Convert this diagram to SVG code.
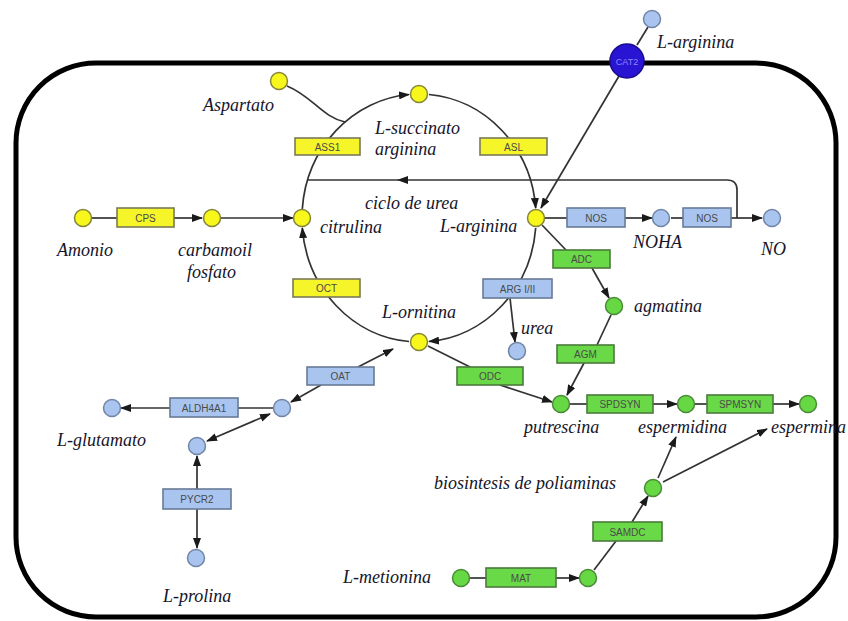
<svg xmlns="http://www.w3.org/2000/svg" width="848" height="621" viewBox="0 0 848 621">
<defs>
<style>
.lbl{font-family:"Liberation Serif",serif;font-style:italic;font-size:18px;fill:#15152a}
.et{font-family:"Liberation Sans",sans-serif;font-size:10px;fill:#4a4a4a;text-anchor:middle}
.c{stroke:#333;stroke-width:1.7;fill:none}
.ny{fill:#f7f71c;stroke:#85853a;stroke-width:1.5}
.nb{fill:#a9c5ef;stroke:#7185a6;stroke-width:1.5}
.ng{fill:#66d844;stroke:#4b8a36;stroke-width:1.5}
.by{fill:#f5f52a;stroke:#7a7a55;stroke-width:1.6}
.bb{fill:#a9c5ef;stroke:#687a96;stroke-width:1.6}
.bg{fill:#6ad947;stroke:#4a7a3a;stroke-width:1.6}
</style>
<marker id="a" markerWidth="11" markerHeight="8" refX="10" refY="4" orient="auto-start-reverse" markerUnits="userSpaceOnUse">
<path d="M0,0 L11,4 L0,8 z" fill="#1a1a1a"/>
</marker>
</defs>
<rect width="848" height="621" fill="#ffffff"/>
<rect id="cell" x="16" y="63" width="820" height="554" rx="80" ry="80" fill="none" stroke="#000" stroke-width="5"/>

<g id="connectors">
<path class="c" d="M302.3,209 A117 124 0 0 1 409,94.5" marker-end="url(#a)"/>
<path class="c" d="M429,94.5 A117 124 0 0 1 535.7,208" marker-end="url(#a)"/>
<path class="c" d="M535.7,228 A117 124 0 0 1 429,341.5" marker-end="url(#a)"/>
<path class="c" d="M409,341.5 A117 124 0 0 1 302.3,228" marker-end="url(#a)"/>
<path class="c" d="M287,86 C312,96 322,117 345,122"/>
<path class="c" d="M737,218 V190 Q737,180 727,180 H398" marker-end="url(#a)"/>
<path class="c" d="M400,180 H307"/>
<path class="c" d="M92,218 H117"/>
<path class="c" d="M174,218 H202" marker-end="url(#a)"/>
<path class="c" d="M221,218 H293" marker-end="url(#a)"/>
<path class="c" d="M648,27 L637,45"/>
<path class="c" d="M619,76 L541,208" marker-end="url(#a)"/>
<path class="c" d="M545,218 H567"/>
<path class="c" d="M625,218 H652" marker-end="url(#a)"/>
<path class="c" d="M671,218 H683"/>
<path class="c" d="M731,218 H762" marker-end="url(#a)"/>
<path class="c" d="M542,225 L566,250"/>
<path class="c" d="M592,268 L609,298" marker-end="url(#a)"/>
<path class="c" d="M611,315 L597,345"/>
<path class="c" d="M584,363 L567,395" marker-end="url(#a)"/>
<path class="c" d="M428,346 L470,367"/>
<path class="c" d="M500,385 L552,402" marker-end="url(#a)"/>
<path class="c" d="M510,298 L515,342" marker-end="url(#a)"/>
<path class="c" d="M570,404 H587"/>
<path class="c" d="M653,404 H677" marker-end="url(#a)"/>
<path class="c" d="M695,404 H707"/>
<path class="c" d="M773,404 H799" marker-end="url(#a)"/>
<path class="c" d="M658,478 L676,437" marker-end="url(#a)"/>
<path class="c" d="M663,482 L767,429" marker-end="url(#a)"/>
<path class="c" d="M594,570 L616,541"/>
<path class="c" d="M632,522 L648,496" marker-end="url(#a)"/>
<path class="c" d="M470,578 H486"/>
<path class="c" d="M556,578 H579" marker-end="url(#a)"/>
<path class="c" d="M358,367 L393,349" marker-end="url(#a)"/>
<path class="c" d="M321,385 L291,402" marker-end="url(#a)"/>
<path class="c" d="M273,408 H238"/>
<path class="c" d="M170,408 H121" marker-end="url(#a)"/>
<path class="c" d="M270,414 L207,441" marker-start="url(#a)" marker-end="url(#a)"/>
<path class="c" d="M197,489 L197,456" marker-end="url(#a)"/>
<path class="c" d="M197,509 L197,548" marker-end="url(#a)"/>
</g>

<g id="enzymes">
<g id="ASS1"><rect class="by" x="295" y="138" width="65" height="17"/><text class="et" x="327.5" y="150.5">ASS1</text></g>
<g id="ASL"><rect class="by" x="480" y="138" width="67" height="17"/><text class="et" x="513.5" y="150.5">ASL</text></g>
<g id="CPS"><rect class="by" x="117" y="208" width="57" height="19"/><text class="et" x="145.5" y="221.5">CPS</text></g>
<g id="OCT"><rect class="by" x="293" y="279" width="67" height="18"/><text class="et" x="326.5" y="292">OCT</text></g>
<g id="NOS1"><rect class="bb" x="567" y="208" width="58" height="19"/><text class="et" x="596" y="221.5">NOS</text></g>
<g id="NOS2"><rect class="bb" x="683" y="208" width="48" height="19"/><text class="et" x="707" y="221.5">NOS</text></g>
<g id="ADC"><rect class="bg" x="553" y="250" width="57" height="18"/><text class="et" x="581.5" y="263">ADC</text></g>
<g id="ARG"><rect class="bb" x="483" y="279" width="69" height="19"/><text class="et" x="517.5" y="292.5">ARG I/II</text></g>
<g id="AGM"><rect class="bg" x="557" y="345" width="57" height="18"/><text class="et" x="585.5" y="358">AGM</text></g>
<g id="ODC"><rect class="bg" x="457" y="367" width="66" height="18"/><text class="et" x="490" y="380">ODC</text></g>
<g id="OAT"><rect class="bb" x="307" y="367" width="67" height="18"/><text class="et" x="340.5" y="380">OAT</text></g>
<g id="ALDH4A1"><rect class="bb" x="170" y="398" width="68" height="19"/><text class="et" x="204" y="411.5">ALDH4A1</text></g>
<g id="SPDSYN"><rect class="bg" x="587" y="395" width="66" height="18"/><text class="et" x="620" y="408">SPDSYN</text></g>
<g id="SPMSYN"><rect class="bg" x="707" y="395" width="66" height="18"/><text class="et" x="740" y="408">SPMSYN</text></g>
<g id="PYCR2"><rect class="bb" x="163" y="489" width="68" height="20"/><text class="et" x="197" y="503">PYCR2</text></g>
<g id="SAMDC"><rect class="bg" x="593" y="522" width="69" height="19"/><text class="et" x="627.5" y="535.5">SAMDC</text></g>
<g id="MAT"><rect class="bg" x="486" y="568" width="70" height="19"/><text class="et" x="521" y="581.5">MAT</text></g>
</g>

<g id="CAT2"><circle cx="627" cy="61" r="17" fill="#2a14d4" stroke="#1a0c8a" stroke-width="1.5"/><text x="627" y="64.5" font-family="Liberation Sans,sans-serif" font-size="9" fill="#8f86ff" text-anchor="middle">CAT2</text></g>

<g id="nodes">
<circle id="n-arg-ext" class="nb" cx="652" cy="19" r="8.5"/>
<circle id="n-aspartato" class="ny" cx="279" cy="81" r="8.5"/>
<circle id="n-succinato" class="ny" cx="419" cy="94" r="8.5"/>
<circle id="n-amonio" class="ny" cx="83" cy="218" r="8.5"/>
<circle id="n-carbamoil" class="ny" cx="212" cy="218" r="8.5"/>
<circle id="n-citrulina" class="ny" cx="302" cy="218" r="8.5"/>
<circle id="n-arginina" class="ny" cx="536" cy="218" r="8.5"/>
<circle id="n-ornitina" class="ny" cx="419" cy="342" r="8.5"/>
<circle id="n-noha" class="nb" cx="661" cy="218" r="8.5"/>
<circle id="n-no" class="nb" cx="772" cy="218" r="8.5"/>
<circle id="n-urea" class="nb" cx="517" cy="351" r="8.5"/>
<circle id="n-glutamato" class="nb" cx="112" cy="408" r="8.5"/>
<circle id="n-p5c" class="nb" cx="282" cy="408" r="8.5"/>
<circle id="n-glusa" class="nb" cx="197" cy="446" r="8.5"/>
<circle id="n-prolina" class="nb" cx="196" cy="558" r="8.5"/>
<circle id="n-agmatina" class="ng" cx="614" cy="306" r="8.5"/>
<circle id="n-putrescina" class="ng" cx="561" cy="404" r="8.5"/>
<circle id="n-espermidina" class="ng" cx="686" cy="404" r="8.5"/>
<circle id="n-espermina" class="ng" cx="808" cy="404" r="8.5"/>
<circle id="n-dcsam" class="ng" cx="653" cy="488" r="8.5"/>
<circle id="n-metionina" class="ng" cx="461" cy="578" r="8.5"/>
<circle id="n-sam" class="ng" cx="588" cy="578" r="8.5"/>
</g>

<g id="labels">
<text class="lbl" x="657" y="48">L-arginina</text>
<text class="lbl" x="203" y="111">Aspartato</text>
<text class="lbl" x="375" y="134">L-succinato</text>
<text class="lbl" x="375" y="155">arginina</text>
<text class="lbl" x="365" y="209">ciclo de urea</text>
<text class="lbl" x="320" y="233">citrulina</text>
<text class="lbl" x="440" y="232">L-arginina</text>
<text class="lbl" x="57" y="256">Amonio</text>
<text class="lbl" x="178" y="256">carbamoil</text>
<text class="lbl" x="187" y="278">fosfato</text>
<text class="lbl" x="633" y="248">NOHA</text>
<text class="lbl" x="761" y="255">NO</text>
<text class="lbl" x="634" y="312">agmatina</text>
<text class="lbl" x="382" y="318">L-ornitina</text>
<text class="lbl" x="521" y="334">urea</text>
<text class="lbl" x="57" y="446">L-glutamato</text>
<text class="lbl" x="524" y="433">putrescina</text>
<text class="lbl" x="638" y="433">espermidina</text>
<text class="lbl" x="771" y="433">espermina</text>
<text class="lbl" x="434" y="489">biosintesis de poliaminas</text>
<text class="lbl" x="343" y="583">L-metionina</text>
<text class="lbl" x="163" y="602">L-prolina</text>
</g>
</svg>
